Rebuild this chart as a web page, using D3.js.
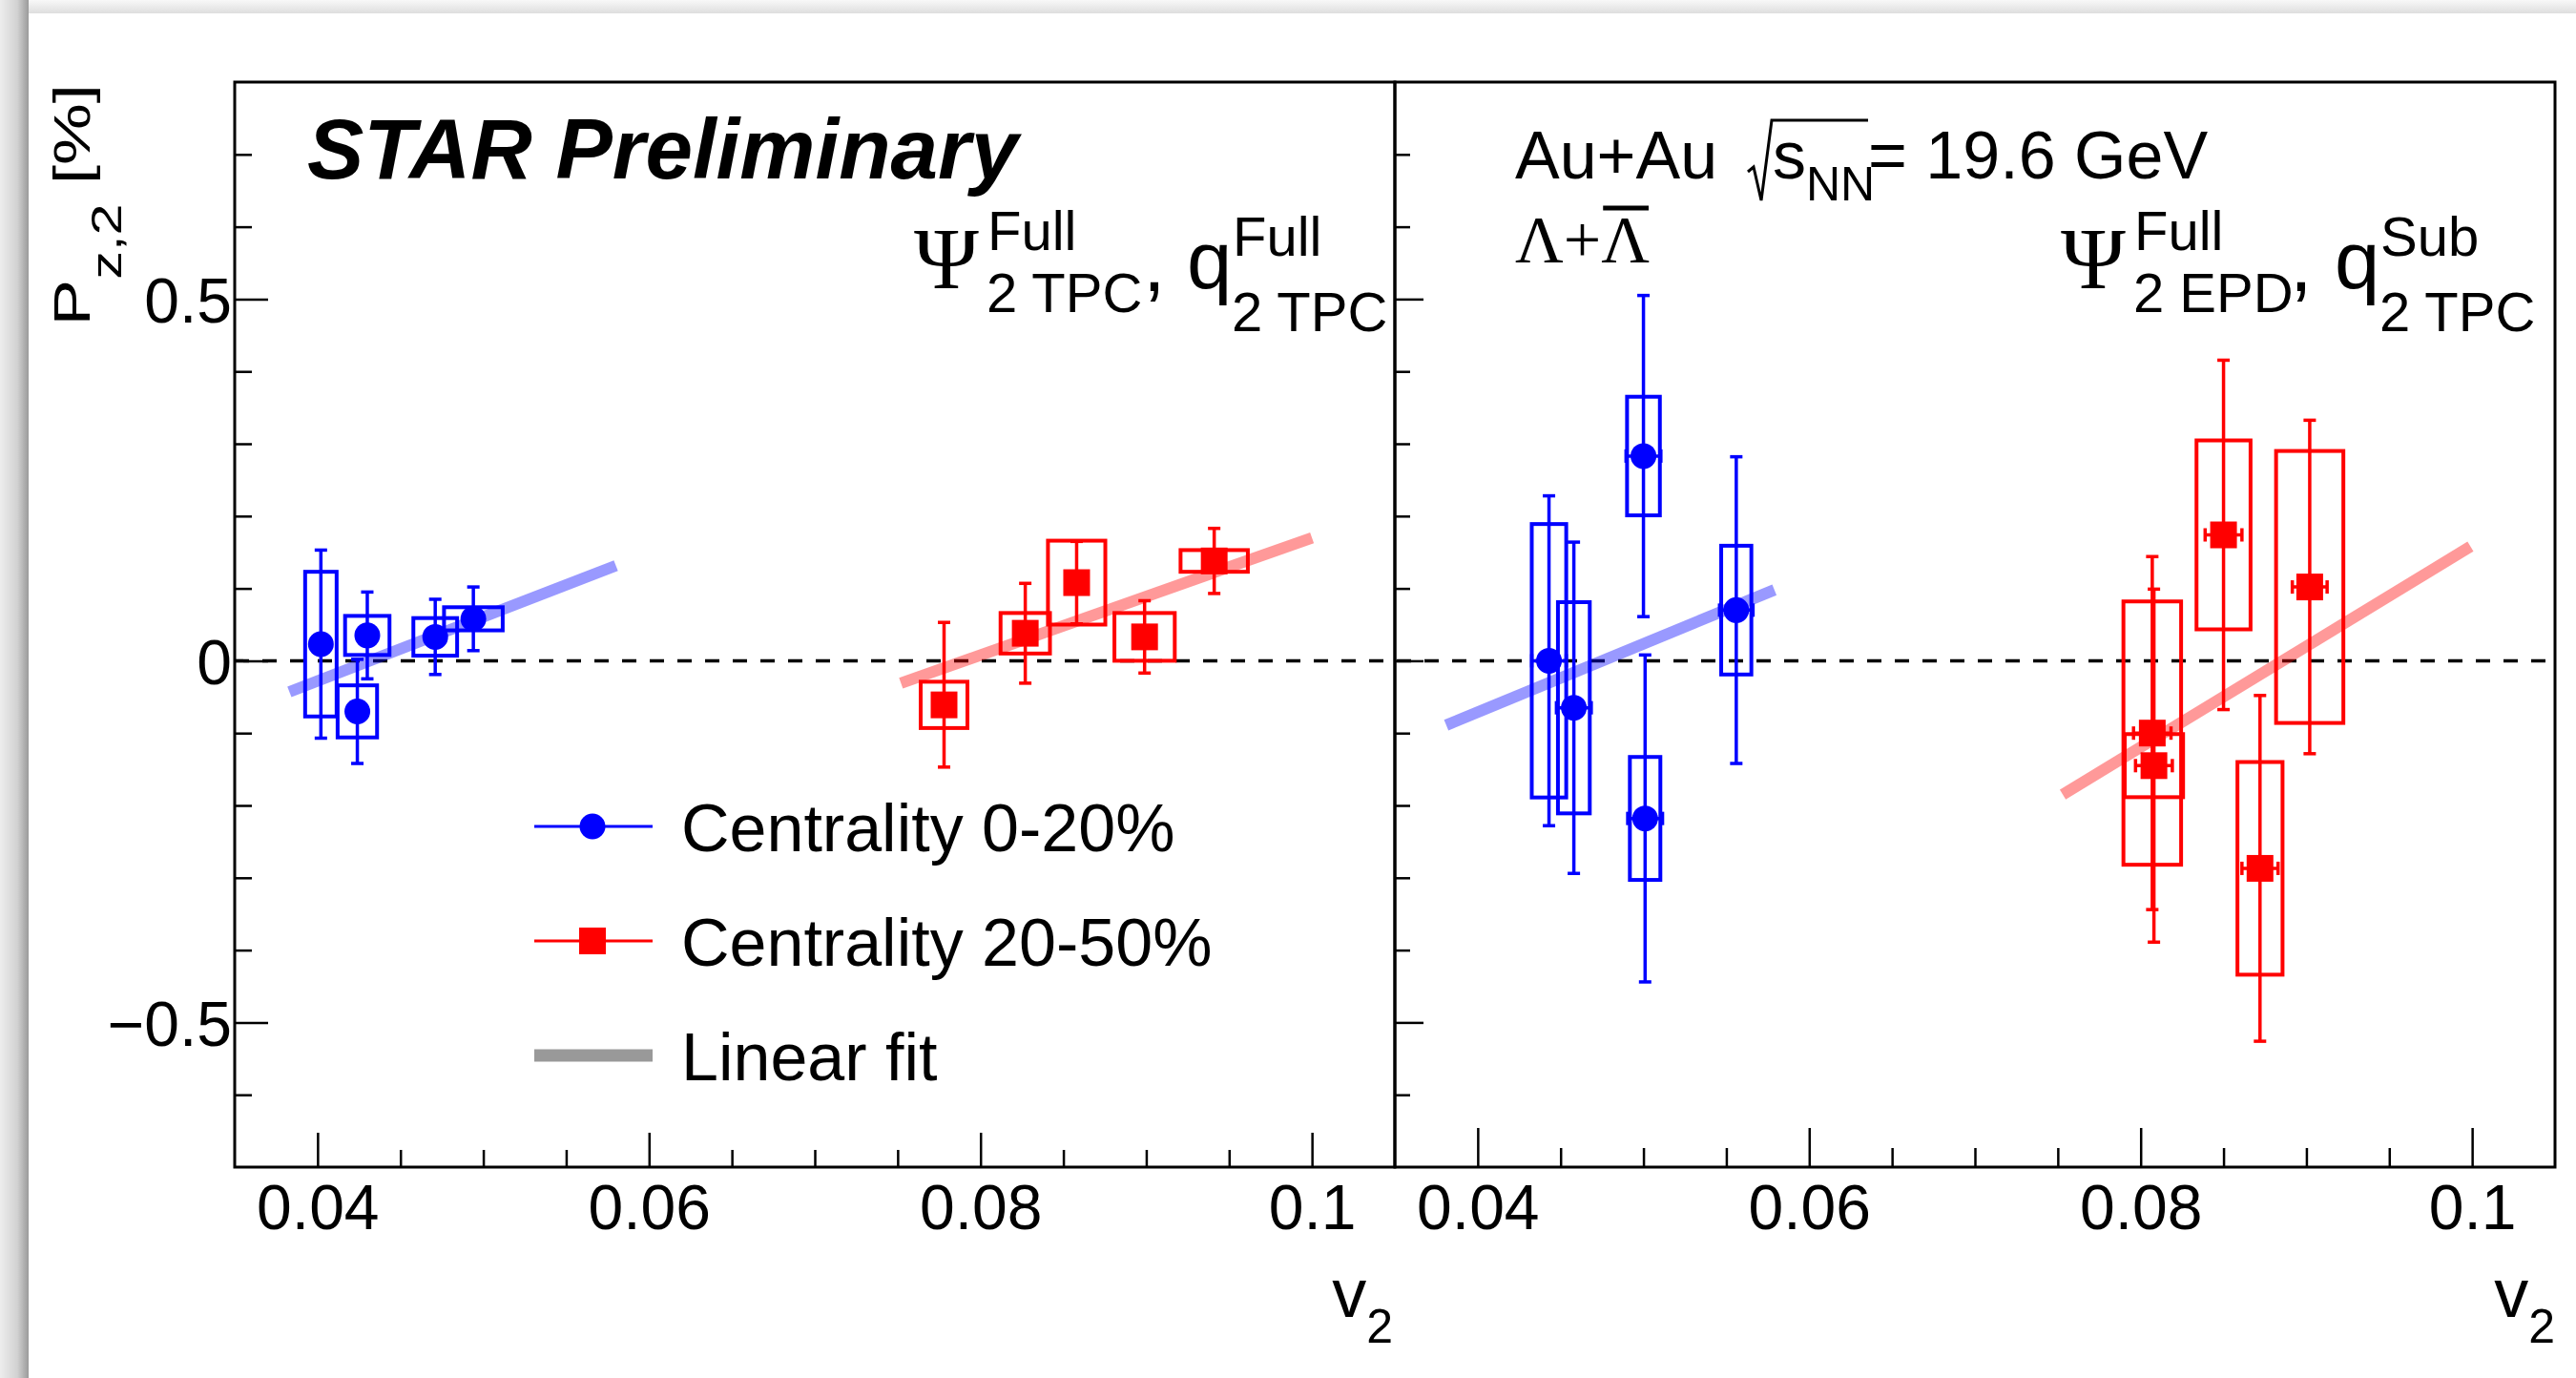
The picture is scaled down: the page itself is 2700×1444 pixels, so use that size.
<!DOCTYPE html>
<html>
<head>
<meta charset="utf-8">
<script src="https://cdn.jsdelivr.net/npm/d3@7"></script>
<style>
  body { margin: 0; background: #fff; }
  text { font-family: "Liberation Sans", Arial, Helvetica, sans-serif; fill: #000; }
</style>
</head>
<body>
<svg id="chart"></svg>
<script>
const width = 2700;
const height = 1444;

// AXIS TICKS
const v2Ticks = [0.04, 0.06, 0.08, 0.1];
const v2Minor = [0.045, 0.05, 0.055, 0.065, 0.07, 0.075, 0.085, 0.09, 0.095];
const pzTicks = [-0.5, 0, 0.5];
const pzMinor = [-0.6, -0.4, -0.3, -0.2, -0.1, 0.1, 0.2, 0.3, 0.4, 0.6, 0.7];

// LEFT PANEL (Psi2 TPC full, q2 TPC full) - centrality 0-20%
const blueL_v2   = [0.0402, 0.0424, 0.0430, 0.0471, 0.0494];
const blueL_pz   = [0.023, -0.070, 0.035, 0.033, 0.058];
const blueL_lo   = [0.130, 0.072, 0.060, 0.052, 0.044];
const blueL_hi   = [0.130, 0.072, 0.060, 0.052, 0.044];
const blueL_sysV = [0.00095, 0.00119, 0.00134, 0.00132, 0.00177];
const blueL_sysP = [0.100, 0.036, 0.027, 0.026, 0.016];
const blueL_fit  = [[0.0383, -0.043], [0.0580, 0.1315]];

// LEFT PANEL - centrality 20-50%
const redL_v2   = [0.0778, 0.0827, 0.0858, 0.0899, 0.0941];
const redL_pz   = [-0.061, 0.038, 0.108, 0.033, 0.138];
const redL_lo   = [0.086, 0.069, 0.057, 0.050, 0.045];
const redL_hi   = [0.114, 0.069, 0.057, 0.050, 0.045];
const redL_sysV = [0.00141, 0.00149, 0.00173, 0.00182, 0.00203];
const redL_sysP = [0.032, 0.028, 0.058, 0.033, 0.015];
const redL_fit  = [[0.0752, -0.031], [0.1000, 0.170]];

// RIGHT PANEL (Psi2 EPD full, q2 TPC sub) - centrality 0-20%
const blueR_v2    = [0.0443, 0.0458, 0.0500, 0.0501, 0.0556];
const blueR_pz    = [0.000, -0.065, 0.283, -0.218, 0.070];
const blueR_lo    = [0.228, 0.229, 0.222, 0.226, 0.212];
const blueR_hi    = [0.228, 0.229, 0.222, 0.226, 0.212];
const blueR_statV = [0.00104, 0.00105, 0.00105, 0.00105, 0.00101];
const blueR_sysV  = [0.00104, 0.00096, 0.00099, 0.00092, 0.00091];
const blueR_sysP  = [0.189, 0.146, 0.082, 0.085, 0.089];
const blueR_fit   = [[0.0381, -0.089], [0.0579, 0.098]];

// RIGHT PANEL - centrality 20-50%
const redR_v2    = [0.0807, 0.0808, 0.0850, 0.0872, 0.0902];
const redR_pz    = [-0.100, -0.145, 0.174, -0.287, 0.102];
const redR_lo    = [0.244, 0.244, 0.2415, 0.239, 0.2305];
const redR_hi    = [0.244, 0.244, 0.2415, 0.239, 0.2305];
const redR_statV = [0.00113, 0.00111, 0.00111, 0.00109, 0.00105];
const redR_sysV  = [0.00174, 0.00176, 0.00163, 0.00136, 0.00203];
const redR_sysP  = [0.182, 0.0436, 0.1306, 0.147, 0.188];
const redR_fit   = [[0.0753, -0.185], [0.0999, 0.158]];

const legendLabels = ["Centrality 0-20%", "Centrality 20-50%", "Linear fit"];

// SCALES
const frameTop = 86, frameBottom = 1223;
const xL = d3.scaleLinear().domain([0.035, 0.105]).range([246, 1462]);
const xR = d3.scaleLinear().domain([0.035, 0.105]).range([1462, 2678]);
const y = d3.scaleLinear().domain([-0.7, 0.8]).range([frameBottom, frameTop]);

const svg = d3.select("#chart")
  .attr("width", width)
  .attr("height", height);

// WINDOW SHADOW (screenshot edge)
const defs = svg.append("defs");
const gl = defs.append("linearGradient").attr("id", "shL")
  .attr("x1", 0).attr("x2", 1).attr("y1", 0).attr("y2", 0);
gl.append("stop").attr("offset", 0).attr("stop-color", "#ededed");
gl.append("stop").attr("offset", 0.6).attr("stop-color", "#d2d2d2");
gl.append("stop").attr("offset", 1).attr("stop-color", "#9a9a9a");
const gt = defs.append("linearGradient").attr("id", "shT")
  .attr("x1", 0).attr("x2", 0).attr("y1", 0).attr("y2", 1);
gt.append("stop").attr("offset", 0).attr("stop-color", "#f8f8f8");
gt.append("stop").attr("offset", 1).attr("stop-color", "#dedede");

svg.append("rect").attr("width", width).attr("height", height).attr("fill", "#fff");
svg.append("rect").attr("width", width).attr("height", 14).attr("fill", "url(#shT)");
svg.append("rect").attr("width", 30).attr("height", height).attr("fill", "url(#shL)");
svg.append("rect").attr("x", 30).attr("y", 14)
  .attr("width", width).attr("height", height).attr("rx", 10).attr("fill", "#fff");

// ZERO LINE
svg.append("line")
  .attr("x1", xL(0.035)).attr("x2", xR(0.105))
  .attr("y1", y(0)).attr("y2", y(0))
  .attr("stroke", "#000").attr("stroke-width", 3.5)
  .attr("stroke-dasharray", "15 14");

// FIT BANDS
function drawFit(x, fit, color) {
  svg.append("line")
    .attr("x1", x(fit[0][0])).attr("y1", y(fit[0][1]))
    .attr("x2", x(fit[1][0])).attr("y2", y(fit[1][1]))
    .attr("stroke", color).attr("stroke-opacity", 0.4)
    .attr("stroke-width", 12);
}
drawFit(xL, blueL_fit, "#0000ff");
drawFit(xL, redL_fit, "#ff0000");
drawFit(xR, blueR_fit, "#0000ff");
drawFit(xR, redR_fit, "#ff0000");

// DATA POINTS
function drawSeries(x, s) {
  const g = svg.append("g");
  const idx = d3.range(s.v.length);
  // systematic boxes
  g.selectAll(null).data(idx).join("rect")
    .attr("x", i => x(s.v[i] - s.sysV[i]))
    .attr("width", i => x(s.v[i] + s.sysV[i]) - x(s.v[i] - s.sysV[i]))
    .attr("y", i => y(s.pz[i] + s.sysP[i]))
    .attr("height", i => y(s.pz[i] - s.sysP[i]) - y(s.pz[i] + s.sysP[i]))
    .attr("fill", "none").attr("stroke", s.color).attr("stroke-width", 4);
  // stat error bars
  g.selectAll(null).data(idx).join("line")
    .attr("x1", i => x(s.v[i])).attr("x2", i => x(s.v[i]))
    .attr("y1", i => y(s.pz[i] + s.hi[i])).attr("y2", i => y(s.pz[i] - s.lo[i]))
    .attr("stroke", s.color).attr("stroke-width", 3.5);
  const caps = idx.flatMap(i => [y(s.pz[i] + s.hi[i]), y(s.pz[i] - s.lo[i])].map(cy => ({ i, cy })));
  g.selectAll(null).data(caps).join("line")
    .attr("x1", d => x(s.v[d.i]) - 6.5).attr("x2", d => x(s.v[d.i]) + 6.5)
    .attr("y1", d => d.cy).attr("y2", d => d.cy)
    .attr("stroke", s.color).attr("stroke-width", 3.5);
  if (s.statV) {
    g.selectAll(null).data(idx).join("line")
      .attr("x1", i => x(s.v[i] - s.statV[i])).attr("x2", i => x(s.v[i] + s.statV[i]))
      .attr("y1", i => y(s.pz[i])).attr("y2", i => y(s.pz[i]))
      .attr("stroke", s.color).attr("stroke-width", 3.5);
    const xcaps = idx.flatMap(i => [x(s.v[i] - s.statV[i]), x(s.v[i] + s.statV[i])].map(cx => ({ i, cx })));
    g.selectAll(null).data(xcaps).join("line")
      .attr("x1", d => d.cx).attr("x2", d => d.cx)
      .attr("y1", d => y(s.pz[d.i]) - 7).attr("y2", d => y(s.pz[d.i]) + 7)
      .attr("stroke", s.color).attr("stroke-width", 3.5);
  }
  // markers
  if (s.shape === "circle") {
    g.selectAll(null).data(idx).join("circle")
      .attr("cx", i => x(s.v[i])).attr("cy", i => y(s.pz[i]))
      .attr("r", 13.5).attr("fill", s.color);
  } else {
    g.selectAll(null).data(idx).join("rect")
      .attr("x", i => x(s.v[i]) - 14).attr("y", i => y(s.pz[i]) - 14)
      .attr("width", 28).attr("height", 28).attr("fill", s.color);
  }
}

drawSeries(xL, { v: blueL_v2, pz: blueL_pz, lo: blueL_lo, hi: blueL_hi,
  sysV: blueL_sysV, sysP: blueL_sysP, color: "#0000ff", shape: "circle" });
drawSeries(xL, { v: redL_v2, pz: redL_pz, lo: redL_lo, hi: redL_hi,
  sysV: redL_sysV, sysP: redL_sysP, color: "#ff0000", shape: "square" });
drawSeries(xR, { v: blueR_v2, pz: blueR_pz, lo: blueR_lo, hi: blueR_hi, statV: blueR_statV,
  sysV: blueR_sysV, sysP: blueR_sysP, color: "#0000ff", shape: "circle" });
drawSeries(xR, { v: redR_v2, pz: redR_pz, lo: redR_lo, hi: redR_hi, statV: redR_statV,
  sysV: redR_sysV, sysP: redR_sysP, color: "#ff0000", shape: "square" });

// AXES
function styleAxis(sel) {
  sel.select(".domain").remove();
  sel.selectAll(".tick line").attr("stroke", "#000").attr("stroke-width", 2.5);
  sel.selectAll(".tick text")
    .style("font-family", "'Liberation Sans', Arial, sans-serif")
    .style("font-size", "66px").attr("fill", "#000");
}

function drawXAxis(x, major, minor) {
  svg.append("g").attr("transform", `translate(0, ${frameBottom})`)
    .call(d3.axisBottom(x).tickValues(v2Ticks).tickSize(-major).tickFormat(d3.format("~g")))
    .call(styleAxis)
    .call(g => g.selectAll(".tick text").attr("y", 65).attr("dy", 0));
  svg.append("g").attr("transform", `translate(0, ${frameBottom})`)
    .call(d3.axisBottom(x).tickValues(v2Minor).tickSize(-minor).tickFormat(""))
    .call(styleAxis);
}
drawXAxis(xL, 36, 18);
drawXAxis(xR, 41, 20);

svg.append("g").attr("transform", `translate(${xL(0.035)}, 0)`)
  .call(d3.axisLeft(y).tickValues(pzTicks).tickSize(-35).tickFormat(d3.format("~g")))
  .call(styleAxis)
  .call(g => g.selectAll(".tick text").attr("x", -3).attr("dy", "0.37em"));
svg.append("g").attr("transform", `translate(${xL(0.035)}, 0)`)
  .call(d3.axisLeft(y).tickValues(pzMinor).tickSize(-18).tickFormat(""))
  .call(styleAxis);
svg.append("g").attr("transform", `translate(${xR(0.035)}, 0)`)
  .call(d3.axisLeft(y).tickValues(pzTicks).tickSize(-30).tickFormat(""))
  .call(styleAxis);
svg.append("g").attr("transform", `translate(${xR(0.035)}, 0)`)
  .call(d3.axisLeft(y).tickValues(pzMinor).tickSize(-16).tickFormat(""))
  .call(styleAxis);

// FRAMES
[xL, xR].forEach(x => {
  svg.append("rect")
    .attr("x", x(0.035)).attr("y", frameTop)
    .attr("width", x(0.105) - x(0.035)).attr("height", frameBottom - frameTop)
    .attr("fill", "none").attr("stroke", "#000").attr("stroke-width", 3);
});

// AXIS TITLES
function v2Title(xr) {
  const t = svg.append("text").attr("x", xr).attr("y", 1380)
    .attr("text-anchor", "end").style("font-size", "72px");
  t.append("tspan").text("v");
  t.append("tspan").attr("dy", 27).style("font-size", "50px").text("2");
}
v2Title(xL(0.105) - 2);
v2Title(xR(0.105));

// y title is stretched along its length in the original
const yt = svg.append("text")
  .attr("transform", "translate(94, 88) rotate(-90) scale(1.35, 1)")
  .attr("text-anchor", "end").style("font-size", "54px");
yt.append("tspan").text("P");
yt.append("tspan").attr("dy", 33).style("font-size", "44px").text("z,2");
yt.append("tspan").attr("dy", -33).text(" [%]");

// LABELS
svg.append("text").attr("x", 322).attr("y", 187)
  .style("font-size", "89px").style("font-weight", "bold").style("font-style", "italic")
  .text("STAR Preliminary");

function planeLabel(x0, sup1, sub1, xc, xq, sup2, sub2) {
  svg.append("text").attr("x", x0).attr("y", 302)
    .style("font-family", "'Liberation Serif', 'Times New Roman', serif").style("font-size", "92px")
    .text("\u03A8");
  svg.append("text").attr("x", x0 + 77).attr("y", 262).style("font-size", "58px").text(sup1);
  svg.append("text").attr("x", x0 + 76).attr("y", 327).style("font-size", "58px").text(sub1);
  svg.append("text").attr("x", xc).attr("y", 305).style("font-size", "85px").text(",");
  svg.append("text").attr("x", xq).attr("y", 302).style("font-size", "85px").text("q");
  svg.append("text").attr("x", xq + 48).attr("y", 268).style("font-size", "58px").text(sup2);
  svg.append("text").attr("x", xq + 47).attr("y", 347).style("font-size", "58px").text(sub2);
}
planeLabel(958, "Full", "2 TPC", 1198, 1244, "Full", "2 TPC");
planeLabel(2160, "Full", "2 EPD", 2400, 2447, "Sub", "2 TPC");

// ENERGY LABEL
svg.append("text").attr("x", 1588).attr("y", 187).style("font-size", "70px").text("Au+Au");
svg.append("path")
  .attr("d", "M1832,180 L1838,175 L1846,210 L1857,126 L1958,126")
  .attr("fill", "none").attr("stroke", "#000").attr("stroke-width", 3);
svg.append("text").attr("x", 1858).attr("y", 187).style("font-size", "70px").text("s");
svg.append("text").attr("x", 1893).attr("y", 210).style("font-size", "50px").text("NN");
svg.append("text").attr("x", 1958).attr("y", 187).style("font-size", "70px").text("= 19.6 GeV");

const lam = svg.append("text").attr("x", 1588).attr("y", 275)
  .style("font-family", "'Liberation Serif', 'Times New Roman', serif").style("font-size", "70px")
  .text("\u039B+\u039B");
const lamStart = 1588 + lam.node().getSubStringLength(0, 2);
const lamW = lam.node().getSubStringLength(2, 1);
svg.append("line")
  .attr("x1", lamStart + 2).attr("x2", lamStart + lamW - 1)
  .attr("y1", 218).attr("y2", 218)
  .attr("stroke", "#000").attr("stroke-width", 5);

// LEGEND
const lgx0 = 560, lgx1 = 684, lgm = 621, lgtx = 714;
const legRows = [866, 986, 1106];
svg.append("line").attr("x1", lgx0).attr("x2", lgx1).attr("y1", legRows[0]).attr("y2", legRows[0])
  .attr("stroke", "#0000ff").attr("stroke-width", 3);
svg.append("circle").attr("cx", lgm).attr("cy", legRows[0]).attr("r", 13.5).attr("fill", "#0000ff");
svg.append("line").attr("x1", lgx0).attr("x2", lgx1).attr("y1", legRows[1]).attr("y2", legRows[1])
  .attr("stroke", "#ff0000").attr("stroke-width", 3);
svg.append("rect").attr("x", lgm - 14).attr("y", legRows[1] - 14).attr("width", 28).attr("height", 28)
  .attr("fill", "#ff0000");
svg.append("line").attr("x1", lgx0).attr("x2", lgx1).attr("y1", legRows[2]).attr("y2", legRows[2])
  .attr("stroke", "#999999").attr("stroke-width", 13);
svg.selectAll(null).data(legendLabels).join("text")
  .attr("x", lgtx).attr("y", (d, i) => legRows[i] + 26)
  .style("font-size", "70px")
  .text(d => d);
</script>
</body>
</html>
